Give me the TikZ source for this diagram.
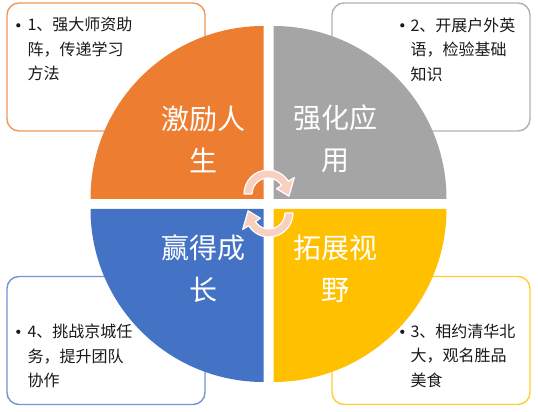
\documentclass[tikz,border=0pt]{standalone}
\usepackage{fontspec}
\newfontfamily\cjk{Noto Sans CJK SC}
\usetikzlibrary{positioning}
\definecolor{qorange}{HTML}{ED7D31}
\definecolor{qgray}{HTML}{A5A5A5}
\definecolor{qblue}{HTML}{4472C4}
\definecolor{qyellow}{HTML}{FFC000}
\definecolor{cyclepink}{HTML}{F9D0C0}
\tikzset{
  card/.style={draw, rounded corners=12pt, line width=1.4pt, fill=white, minimum width=198pt, minimum height=128pt, inner sep=0pt},
  cardtext/.style={font=\cjk\fontsize{16}{24.5}\selectfont, align=left, anchor=north west, inner sep=0pt, text=black!90},
  dotmark/.style={circle, fill=black!90, minimum size=4.2pt, inner sep=0pt},
  quadlabel/.style={font=\cjk\fontsize{28}{42}\selectfont, text=white, align=center, inner sep=0pt},
  cyclearrow/.style={fill=cyclepink, draw=white, line width=1.2pt, line join=round}
}

\begin{document}
\begin{tikzpicture}[x=1pt, y=1pt]
\useasboundingbox (0,0) rectangle (538,412);
% ---- cards behind the circle ----
\node[card, draw=qorange!80] (c1) at (106,345) {};
\node[card, draw=qgray!85] (c2) at (431,345) {};
\node[card, draw=qyellow!80] (c3) at (431,71.5) {};
\node[card, draw=qblue!75] (c4) at (106,71.5) {};
\node[cardtext] (t1) at ([xshift=21pt,yshift=-15pt]c1.north west) {1、强大师资助\\阵，传递学习\\方法};
\node[cardtext] (t2) at ([xshift=79pt,yshift=-15pt]c2.north west) {2、开展户外英\\语，检验基础\\知识};
\node[cardtext] (t3) at ([xshift=79pt,yshift=-48pt]c3.north west) {3、相约清华北\\大，观名胜品\\美食};
\node[cardtext] (t4) at ([xshift=21pt,yshift=-48pt]c4.north west) {4、挑战京城任\\务，提升团队\\协作};
\node[dotmark] (d1) at ([xshift=-9pt,yshift=-8pt]t1.north west) {};
\node[dotmark] (d2) at ([xshift=-8pt,yshift=-8pt]t2.north west) {};
\node[dotmark] (d3) at ([xshift=-8pt,yshift=-8pt]t3.north west) {};
\node[dotmark] (d4) at ([xshift=-9pt,yshift=-8pt]t4.north west) {};
% ---- four quarters ----
\fill[qorange] (263.5,213) -- ++(-173,0) arc[start angle=180, end angle=90, radius=173pt] -- cycle;
\fill[qgray] (273.5,213) -- ++(173,0) arc[start angle=0, end angle=90, radius=173pt] -- cycle;
\fill[qblue] (263.5,203) -- ++(-173,0) arc[start angle=180, end angle=270, radius=173pt] -- cycle;
\fill[qyellow] (273.5,203) -- ++(173,0) arc[start angle=0, end angle=-90, radius=173pt] -- cycle;
\node[quadlabel] (l1) at (203,273) {激励人\\生};
\node[quadlabel] (l2) at (335,273) {强化应\\用};
\node[quadlabel] (l3) at (335,143.5) {拓展视\\野};
\node[quadlabel] (l4) at (203,143.5) {赢得成\\长};
% ---- cycle arrows in the middle ----
\draw[cyclearrow, shift={(268,218)}] (180:24pt) arc[start angle=180, end angle=32, radius=24pt]
  -- (32:31pt) -- (-6:21pt) -- (32:10pt) -- (32:16pt) arc[start angle=32, end angle=180, radius=16pt] -- cycle;
\draw[cyclearrow, shift={(269,199)}] (0:24pt) arc[start angle=360, end angle=212, radius=24pt]
  -- (212:31pt) -- (174:21pt) -- (212:10pt) -- (212:16pt) arc[start angle=212, end angle=360, radius=16pt] -- cycle;
\end{tikzpicture}
\end{document}
